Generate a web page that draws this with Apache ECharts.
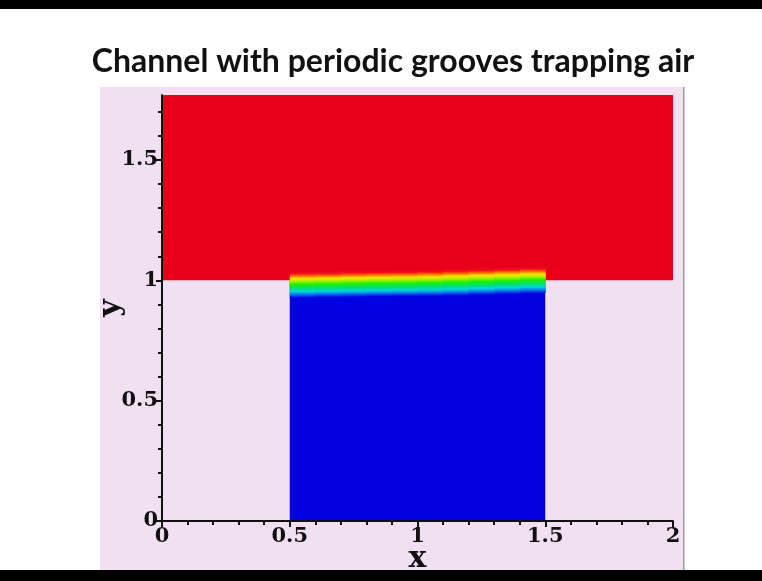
<!DOCTYPE html>
<html><head><meta charset="utf-8">
<script src="https://cdn.jsdelivr.net/npm/echarts@6/dist/echarts.min.js"></script>
<style>html,body{margin:0;padding:0;background:#fff}#c{width:762px;height:581px}</style>
</head><body><div id="c"></div>
<script>
// ---------------- data ----------------
const titleText = 'Channel with periodic grooves trapping air';
const xAxisName = 'x';
const yAxisName = 'y';
const xRange = [0, 2];
const yRange = [0, 1.77];
const tickStep = 0.5;
const xTicks = [0, 0.5, 1, 1.5, 2];
const yTicks = [0, 0.5, 1, 1.5];
// phase regions: [xStart, xEnd, yStart, yEnd, airFraction]
const airRegion = [0, 2, 1, 1.77, 1];
const waterRegion = [0.5, 1.5, 0, 1, 0];
// interface centre line inside the groove
const interfaceX = [0.5, 0.6, 0.7, 0.8, 0.9, 1.0, 1.1, 1.2, 1.3, 1.4, 1.5];
const interfaceY = [0.982, 0.984, 0.985, 0.987, 0.988, 0.989, 0.991, 0.994, 0.997, 1.000, 1.003];
const interfaceHalfWidth = 0.055;

// ---------------- styles ----------------
const RED = '#e8001a';
const BLUE = '#0202e2';
const jetStops = [
  {offset: 0.00, color: RED},
  {offset: 0.10, color: '#f0101a'},
  {offset: 0.18, color: '#ff6a00'},
  {offset: 0.28, color: '#ffe000'},
  {offset: 0.38, color: '#a8f000'},
  {offset: 0.50, color: '#20f000'},
  {offset: 0.64, color: '#00e070'},
  {offset: 0.76, color: '#00d8d8'},
  {offset: 0.88, color: '#0070f0'},
  {offset: 1.00, color: BLUE}
];

const bandData = [];
for (let i = 0; i < interfaceX.length - 1; i++) {
  bandData.push([interfaceX[i], interfaceY[i], interfaceX[i + 1], interfaceY[i + 1]]);
}

function renderRegion(params, api) {
  const p0 = api.coord([api.value(0), api.value(3)]);
  const p1 = api.coord([api.value(1), api.value(2)]);
  return {
    type: 'rect',
    shape: {x: p0[0], y: p0[1], width: p1[0] - p0[0], height: p1[1] - p0[1]},
    style: {fill: api.value(4) === 1 ? RED : BLUE}
  };
}
function renderBand(params, api) {
  const x0 = api.value(0), y0 = api.value(1), x1 = api.value(2), y1 = api.value(3);
  const h = interfaceHalfWidth;
  const a = api.coord([x0, y0 + h]), b = api.coord([x1, y1 + h]);
  const c = api.coord([x1, y1 - h]), d = api.coord([x0, y0 - h]);
  const ov = 0.6;
  return {
    type: 'polygon',
    shape: {points: [[a[0], a[1]], [b[0] + ov, b[1]], [c[0] + ov, c[1]], [d[0], d[1]]]},
    style: {fill: new echarts.graphic.LinearGradient(0, 0, 0, 1, jetStops)}
  };
}

const serif = '"DejaVu Serif", "Liberation Serif", serif';
function axisCommon(ticks) {
  return {
    interval: tickStep,
    z: 10,
    axisLine: {show: true, lineStyle: {color: '#111', width: 2}},
    axisTick: {show: true, length: 6, customValues: ticks, lineStyle: {color: '#111', width: 2}},
    minorTick: {show: true, splitNumber: 5, length: 4, lineStyle: {color: '#111', width: 2}},
    splitLine: {show: false},
    axisLabel: {color: '#111', fontFamily: serif, fontWeight: 'bold', fontSize: 21, customValues: ticks},
    nameLocation: 'middle',
    nameMoveOverlap: false,
    nameTextStyle: {color: '#111', fontFamily: serif, fontWeight: 'bold', fontSize: 30}
  };
}
const xBase = axisCommon(xTicks);
const yBase = axisCommon(yTicks);

const chart = echarts.init(document.getElementById('c'), null, {renderer: 'canvas'});
chart.setOption({
  backgroundColor: '#ffffff',
  animation: false,
  graphic: [
    {type: 'rect', z: -10, shape: {x: 0, y: 0, width: 762, height: 9}, style: {fill: '#000'}},
    {type: 'rect', z: -10, shape: {x: 100, y: 87, width: 583, height: 483}, style: {fill: '#f1dff2'}},
    {type: 'rect', z: -10, shape: {x: 683, y: 87, width: 1.5, height: 483}, style: {fill: '#9a9a9a'}},
    {type: 'rect', z: -10, shape: {x: 0, y: 570, width: 762, height: 11}, style: {fill: '#000'}},
    {type: 'text', z: 5, x: 393, y: 62, style: {text: titleText, fill: '#111', font: 'bold 32px Lato, "Open Sans", sans-serif', textAlign: 'center', textVerticalAlign: 'middle'}}
  ],
  grid: {left: 162, right: 89, top: 95, bottom: 60, containLabel: false, outerBoundsMode: 'none'},
  xAxis: Object.assign({}, xBase, {
    type: 'value', min: xRange[0], max: xRange[1], name: xAxisName, nameGap: 23,
    axisLabel: Object.assign({}, xBase.axisLabel, {margin: 5})
  }),
  yAxis: Object.assign({}, yBase, {
    type: 'value', min: yRange[0], max: yRange[1], name: yAxisName, nameGap: 36, nameRotate: 90,
    axisLabel: Object.assign({}, yBase.axisLabel, {margin: 4})
  }),
  series: [
    {type: 'custom', renderItem: renderRegion, clip: true, data: [airRegion, waterRegion], z: 2},
    {type: 'custom', renderItem: renderBand, clip: true, data: bandData, z: 3}
  ]
});
</script></body></html>
